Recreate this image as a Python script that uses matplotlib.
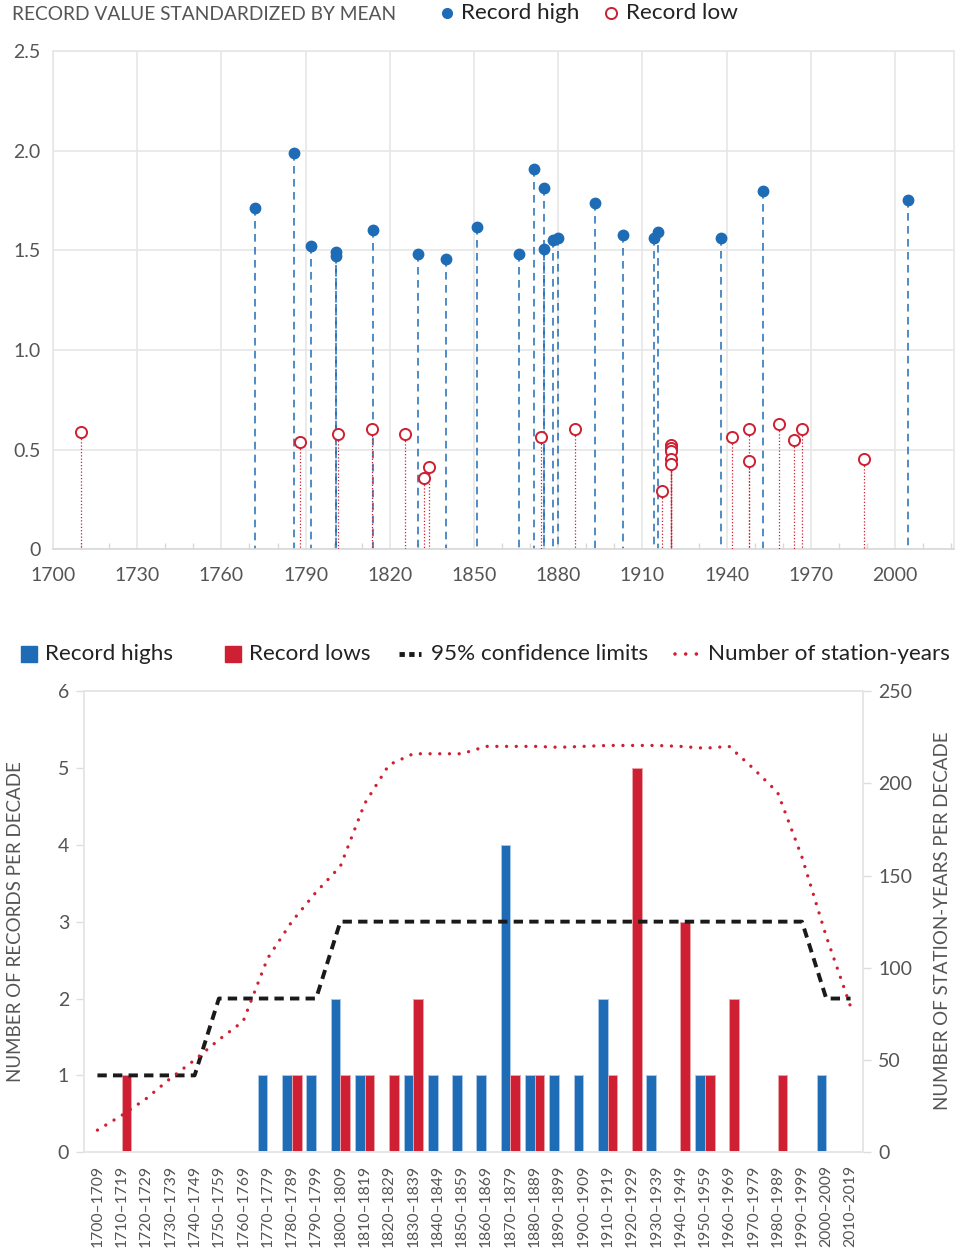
import numpy as np
import matplotlib
matplotlib.use("Agg")
import matplotlib.pyplot as plt
from matplotlib.lines import Line2D
from matplotlib.patches import Rectangle

plt.rcParams["font.family"] = ["Lato", "DejaVu Sans"]

# Top chart: individual records (year, value standardized by mean)
high_years = [1772, 1786, 1792, 1801, 1801, 1814, 1830, 1840, 1851, 1866, 1871.5,
              1875, 1875, 1878, 1880, 1893, 1903, 1914, 1915.5, 1938, 1953, 2004.5]
high_vals = [1.71, 1.99, 1.52, 1.49, 1.47, 1.60, 1.48, 1.455, 1.615, 1.48, 1.91,
             1.815, 1.505, 1.55, 1.56, 1.735, 1.575, 1.56, 1.59, 1.56, 1.80, 1.75]

low_years = [1710, 1788, 1801.5, 1813.5, 1825.5, 1832, 1834, 1874, 1886, 1917,
             1920, 1920, 1920, 1920, 1920, 1942, 1948, 1948, 1958.5, 1964, 1967, 1989]
low_vals = [0.59, 0.54, 0.58, 0.605, 0.58, 0.36, 0.415, 0.565, 0.605, 0.295,
            0.525, 0.51, 0.495, 0.455, 0.43, 0.565, 0.605, 0.445, 0.63, 0.55, 0.605, 0.455]

# Bottom chart: per decade
decades = ["%d\u2013%d" % (y, y + 9) for y in range(1700, 2020, 10)]
highs_count = [0, 0, 0, 0, 0, 0, 0, 1, 1, 1, 2, 1, 0, 1, 1, 1,
               1, 4, 1, 1, 1, 2, 0, 1, 0, 1, 0, 0, 0, 0, 1, 0]
lows_count = [0, 1, 0, 0, 0, 0, 0, 0, 1, 0, 1, 1, 1, 2, 0, 0,
              0, 1, 1, 0, 0, 1, 5, 0, 3, 1, 2, 0, 1, 0, 0, 0]
conf_limits = [1, 1, 1, 1, 1, 2, 2, 2, 2, 2, 3, 3, 3, 3, 3, 3,
               3, 3, 3, 3, 3, 3, 3, 3, 3, 3, 3, 3, 3, 3, 2, 2]
station_years = [12, 20, 29, 40, 50, 61, 71, 105, 125, 141, 155, 189, 210, 216, 216, 216,
                 220, 220, 220, 219.5, 220, 220.5, 220.5, 220.5, 220, 219, 220, 208, 195, 160, 117, 79]

blue = "#1f6cb6"
red = "#cf1f32"
grid_c = "#e6e6e6"
tick_c = "#555555"
text_c = "#222222"

fig = plt.figure(figsize=(9.56, 12.53), dpi=100)

# ---------- top chart ----------
ax1 = fig.add_axes([0.0554, 0.5616, 0.9426, 0.3977])
ax1.set_xlim(1700, 2021)
ax1.set_ylim(0, 2.5)

for x, y in zip(high_years, high_vals):
    ax1.plot([x, x], [y, 0], color=blue, lw=1.1, ls=(0, (5, 3.5)), zorder=2)
for x, y in zip(low_years, low_vals):
    ax1.plot([x, x], [y, 0], color=red, lw=0.9, ls=(0, (1, 1.6)), zorder=3)
ax1.plot(high_years, high_vals, "o", color=blue, ms=7.5, mec=blue, zorder=4)
ax1.plot(low_years, low_vals, "o", mfc="white", mec=red, mew=1.4, ms=8, zorder=5)

ax1.set_xticks(range(1700, 2021, 30))
ax1.set_xticks([y for y in range(1710, 2021, 10) if (y - 1700) % 30], minor=True)
ax1.set_yticks([0, 0.5, 1.0, 1.5, 2.0, 2.5])
ax1.set_yticklabels(["0", "0.5", "1.0", "1.5", "2.0", "2.5"])
ax1.grid(True, which="major", color=grid_c, lw=1.2)
ax1.set_axisbelow(True)
ax1.tick_params(axis="both", which="major", length=0, labelsize=14, colors=tick_c)
ax1.tick_params(axis="x", which="major", pad=13)
ax1.tick_params(axis="y", which="major", pad=9)
ax1.tick_params(axis="x", which="minor", direction="in", length=4, width=1, color="#d8d8d8")
for s in ax1.spines.values():
    s.set_color(grid_c)
    s.set_linewidth(1.2)
ax1.spines["bottom"].set_color("#d8d8d8")

# ---------- bottom chart ----------
ax2 = fig.add_axes([0.0882, 0.0804, 0.8142, 0.3681])
idx = np.arange(len(decades))
w = 0.4
ax2.bar(idx - w / 2, highs_count, width=w, color=blue, edgecolor="#a8c6e8", lw=0.7, zorder=2)
ax2.bar(idx + w / 2, lows_count, width=w, color=red, edgecolor="#eba3ab", lw=0.7, zorder=2)
ax2.plot(idx, conf_limits, color="#1a1a1a", lw=2.8, ls=(0, (2.4, 1.6)), zorder=3)
ax2.set_xlim(-0.54, 31.5)
ax2.set_ylim(0, 6)
ax2.set_xticks(idx)
ax2.set_xticklabels(decades, rotation=90)
ax2.set_yticks(range(7))
ax2.tick_params(axis="x", length=0, pad=9, labelsize=11.3, colors=tick_c)
ax2.tick_params(axis="y", length=6, width=1, color="#dddddd", pad=5, labelsize=14, labelcolor=tick_c)
for s in ax2.spines.values():
    s.set_color(grid_c)
    s.set_linewidth(1.2)

ax3 = ax2.twinx()
ax3.set_ylim(0, 250)
ax3.plot(idx, station_years, color=red, lw=2.4, ls=(0, (0.01, 2.9)),
         dash_capstyle="round", zorder=4)
ax3.set_yticks(range(0, 251, 50))
ax3.tick_params(axis="y", length=6, width=1, color="#dddddd", pad=5, labelsize=14, labelcolor=tick_c)
for s in ax3.spines.values():
    s.set_color(grid_c)
    s.set_linewidth(1.2)

# ---------- labels and legends (pixel overlay) ----------
ov = fig.add_axes([0, 0, 1, 1])
ov.set_xlim(0, 956)
ov.set_ylim(1253, 0)
ov.axis("off")

ov.text(12, 14, "RECORD VALUE STANDARDIZED BY MEAN", fontsize=13.8, color=tick_c,
        va="center", ha="left")
ov.plot([447], [13], "o", color=blue, ms=7)
ov.text(461, 13, "Record high", fontsize=16.2, color=text_c, va="center", ha="left")
ov.plot([611], [13], "o", mfc="white", mec=red, mew=1.4, ms=8)
ov.text(626, 13, "Record low", fontsize=16.2, color=text_c, va="center", ha="left")

ov.add_patch(Rectangle((21, 646), 16, 16, color=blue))
ov.text(45, 654, "Record highs", fontsize=16.2, color=text_c, va="center", ha="left")
ov.add_patch(Rectangle((225, 646), 16, 16, color=red))
ov.text(249, 654, "Record lows", fontsize=16.2, color=text_c, va="center", ha="left")
ov.add_line(Line2D([399, 421], [654, 654], color="#1a1a1a", lw=3.5, ls=(0, (1.1, 0.9))))
ov.text(431, 654, "95% confidence limits", fontsize=16.2, color=text_c, va="center", ha="left")
ov.add_line(Line2D([675, 697], [654, 654], color=red, lw=2.6, ls=(0, (0.01, 2.95)),
                   dash_capstyle="round"))
ov.text(708, 654, "Number of station-years", fontsize=16.2, color=text_c, va="center", ha="left")

ov.text(16, 922, "NUMBER OF RECORDS PER DECADE", fontsize=13.5, color=tick_c,
        rotation=90, va="center", ha="center")
ov.text(943, 921, "NUMBER OF STATION-YEARS PER DECADE", fontsize=13.5, color=tick_c,
        rotation=90, va="center", ha="center")

fig.savefig("out.png", dpi=100)
